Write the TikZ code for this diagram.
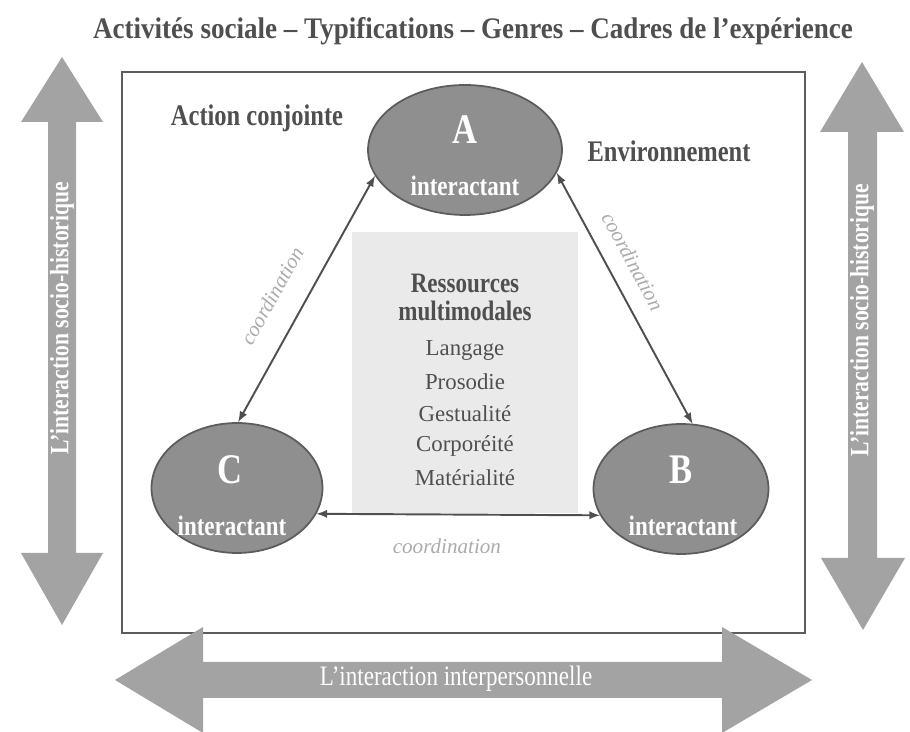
\documentclass[tikz,border=0pt]{standalone}
\usepackage{fontspec}
\setmainfont{Liberation Serif}
\newfontfamily\etroite[FakeStretch=0.82]{Liberation Serif}
\usetikzlibrary{shapes.geometric}

\definecolor{grisfleche}{HTML}{A3A3A3}
\definecolor{grisellipse}{HTML}{8F8F8F}
\definecolor{grisbord}{HTML}{5C5C5C}
\definecolor{grisfonce}{HTML}{4F4F4F}
\definecolor{grisclair}{HTML}{ABABAB}
\definecolor{grisfond}{HTML}{EAEAEA}

\begin{document}
\begin{tikzpicture}[x=0.02cm,y=-0.02cm,
    interactant/.style={ellipse,draw=grisbord,fill=grisellipse,line width=1pt,minimum height=2.6cm},
    lettre/.style={text=white,font=\etroite\bfseries\fontsize{24}{26}\selectfont},
    role/.style={text=white,font=\etroite\bfseries\fontsize{16}{18}\selectfont},
    titre/.style={text=grisfonce,font=\etroite\bfseries\fontsize{17}{20}\selectfont},
    fleche/.style={text=white,font=\etroite\bfseries\fontsize{15}{18}\selectfont},
    ressource/.style={text=grisfonce,font=\fontsize{13}{15}\selectfont},
    coord/.style={latex-latex,grisfonce,line width=1.1pt},
    etiquette/.style={text=grisclair,font=\itshape\fontsize{12}{14}\selectfont}]
    \useasboundingbox (0,0) rectangle (910,732);

    % titre general
    \node[titre] (titre) at (473,31) {\resizebox{15.2cm}{\height}{Activités sociale – Typifications – Genres – Cadres de l’expérience}};

    % cadre de l'environnement
    \draw[grisbord,line width=0.7pt] (122,72) rectangle (805,633);

    % grandes fleches
    \fill[grisfleche] (62,57) -- (103,122) -- (76,122) -- (76,553) -- (103,553) -- (62,625) -- (21,553) -- (48,553) -- (48,122) -- (21,122) -- cycle;
    \fill[grisfleche] (862,62) -- (904,132) -- (877,132) -- (877,558) -- (905,558) -- (863,630) -- (821,558) -- (848,558) -- (848,132) -- (820,132) -- cycle;
    \fill[grisfleche] (115,680) -- (203,627) -- (203,662) -- (722,662) -- (722,627) -- (812,680) -- (722,733) -- (722,698) -- (203,698) -- (203,733) -- cycle;
    \node[fleche,rotate=90] (histg) at (62,318) {L’interaction socio-historique};
    \node[fleche,rotate=90] (histd) at (862,320) {L’interaction socio-historique};
    \node[fleche,font=\etroite\fontsize{16}{18}\selectfont] (interp) at (456,679) {L’interaction interpersonnelle};

    % ressources au centre
    \fill[grisfond] (352,232) rectangle (578,513);
    \node[ressource,font=\etroite\bfseries\fontsize{16}{18}\selectfont] (ress) at (465,283) {Ressources};
    \node[ressource,font=\etroite\bfseries\fontsize{16}{18}\selectfont] (multi) at (465,311) {multimodales};
    \foreach \mot [count=\i] in {Langage,Prosodie,Gestualité,Corporéité,Matérialité}
        \node[ressource] (r\i) at (465,{318+32*\i}) {\mot};

    \node[titre] (action) at (257,118) {Action conjointe};
    \node[titre] (envir) at (669,151) {Environnement};

    % les trois interactants
    \node[interactant,minimum width=3.88cm] (A) at (465,150) {};
    \node[interactant,minimum width=3.42cm] (C) at (237,488) {};
    \node[interactant,minimum width=3.5cm] (B) at (681,489) {};
    \node[lettre] (Al) at (465,130) {A};
    \node[role] (Ar) at (465,186) {interactant};
    \node[lettre] (Cl) at (230,470) {C};
    \node[role] (Cr) at (232,526) {interactant};
    \node[lettre] (Bl) at (681,470) {B};
    \node[role] (Br) at (683,526) {interactant};

    % coordinations
    \draw[coord] (A.196) -- (C.89) node[etiquette,pos=0.55,sloped,above=10pt] {coordination};
    \draw[coord] (A.346) -- (B.80) node[etiquette,pos=0.4,sloped,above=6pt] {coordination};
    \draw[coord] (C.342) -- (B.198) node[etiquette,pos=0.46,below=10pt] {coordination};
\end{tikzpicture}
\end{document}
